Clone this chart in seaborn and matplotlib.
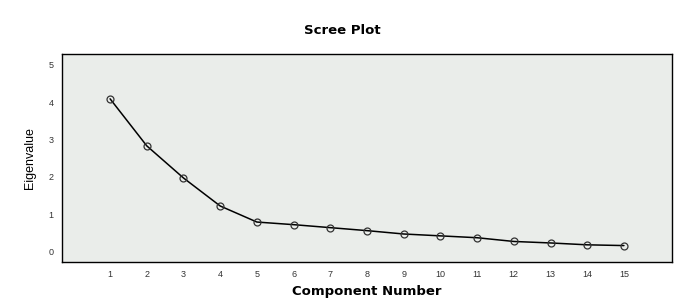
import matplotlib
matplotlib.use("Agg")
import matplotlib.pyplot as plt
import seaborn as sns
import pandas as pd

components = [1, 2, 3, 4, 5, 6, 7, 8, 9, 10, 11, 12, 13, 14, 15]
eigenvalues = [4.09, 2.83, 1.97, 1.22, 0.79, 0.72, 0.64, 0.56, 0.47, 0.42, 0.37, 0.27, 0.23, 0.18, 0.16]
y_ticks = [0, 1, 2, 3, 4, 5]

df = pd.DataFrame({"Component Number": components, "Eigenvalue": eigenvalues})

sns.set_style("white")
plt.rcParams['font.family'] = ['Liberation Sans', 'DejaVu Sans']
plt.rcParams['text.color'] = 'black'
plt.rcParams['axes.labelcolor'] = 'black'

fig = plt.figure(figsize=(6.75, 2.98), dpi=100)
ax = fig.add_axes([62/675, 1 - 262/298, (672-62)/675, (262-54)/298])
ax.set_facecolor('#eaedea')

sns.lineplot(data=df, x="Component Number", y="Eigenvalue", ax=ax,
             color='black', linewidth=1.1, marker='o', markersize=5,
             markerfacecolor='none', markeredgecolor='#333333', markeredgewidth=0.9)

ax.set_xlim(-0.31, 16.31)
ax.set_ylim(-0.28, 5.29)
ax.set_xticks(components)
ax.set_xticklabels([str(c) for c in components], fontsize=6.5, color='#333333')
ax.set_yticks(y_ticks)
ax.set_yticklabels([str(t) for t in y_ticks], fontsize=6.5, color='#333333')
ax.tick_params(axis='both', direction='out', length=4, width=1.8, color='black', pad=2)

for s in ax.spines.values():
    s.set_visible(True)
    s.set_color('black')
    s.set_linewidth(1.0)

ax.set_xlabel("Component Number", fontsize=9.5, fontweight='bold', labelpad=4,
              family=['DejaVu Sans'], color='black')
ax.set_ylabel("Eigenvalue", fontsize=9, labelpad=9, color='black')
fig.text(342/675, 1 - 30/298, "Scree Plot", ha='center', va='center', fontsize=9.5,
         fontweight='bold', family=['DejaVu Sans'], color='black')

fig.savefig("out.png", dpi=100)
